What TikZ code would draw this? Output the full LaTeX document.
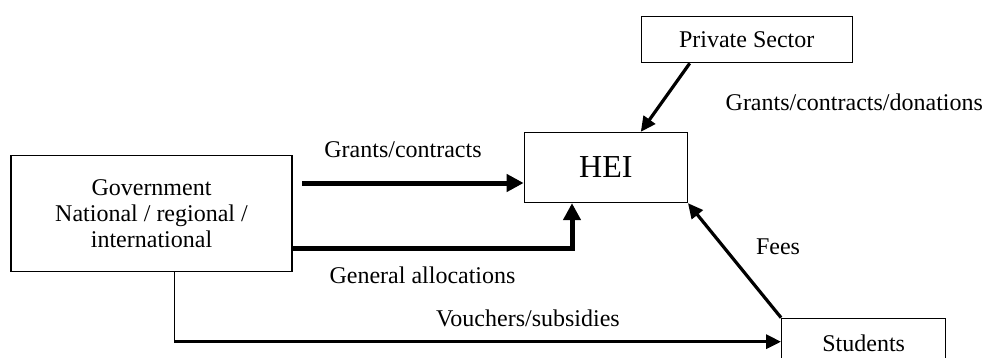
\documentclass[tikz,border=0pt]{standalone}
\usepackage{fontspec}
\setmainfont{Liberation Serif}
\usepackage{tikz}
\usetikzlibrary{positioning, arrows.meta, calc}

\tikzset{
  bloc/.style={draw, line width=0.65pt, inner sep=0pt, align=center},
  flechegrasse/.style={line width=2.5pt, -{Triangle[length=8.5pt,width=8.5pt]}},
  fleche/.style={line width=1.6pt, -{Triangle[length=7.5pt,width=7pt]}},
  etiquette/.style={inner sep=0pt}
}

\begin{document}
\begin{tikzpicture}[x=0.5pt, y=-0.5pt, font=\fontsize{12}{12.8}\selectfont]
    \useasboundingbox (0,0) rectangle (984,358);
    \clip (0,0) rectangle (984,358);
    % boites
    \node[bloc, minimum width=140.5pt, minimum height=58pt] (gov) at (151.5,213.7)
        {Government\\National / regional /\\international};
    \node[bloc, minimum width=81.5pt, minimum height=35pt, font=\fontsize{16}{18}\selectfont] (hei) at (605.8,167.5) {HEI};
    \node[bloc, minimum width=105.5pt, minimum height=23pt] (private) at (746.7,39.7) {Private Sector};
    \node[bloc, minimum width=82pt, minimum height=25pt] (students) at (863.7,343.3) {Students};
    % points de passage
    \coordinate (gcstart) at (302,183);
    \coordinate (gaturn) at (572,248.3);
    \coordinate (vcorner) at (174.3,341.7);
    % fleches
    \draw[flechegrasse] (gcstart) -- (gcstart -| hei.west);
    \draw[flechegrasse] (gov.east |- gaturn) -- (gaturn) -- (gaturn |- hei.south);
    \draw[line width=0.65pt] (vcorner |- gov.south) -- (vcorner);
    \draw[fleche] (vcorner) -- (vcorner -| students.west);
    \draw[fleche] ($(private.south)+(-57,0)$) -- ($(hei.north)+(35,0)$);
    \draw[fleche] (students.north west) -- (hei.south east);
    % etiquettes
    \node[etiquette] (lgc) at (403,150) {Grants/contracts};
    \node[etiquette] (lga) at (422.5,275) {General allocations};
    \node[etiquette] (lvs) at (528,318.3) {Vouchers/subsidies};
    \node[etiquette] (lgcd) at (854.3,102.3) {Grants/contracts/donations};
    \node[etiquette] (lfees) at (778,246.7) {Fees};
\end{tikzpicture}
\end{document}
